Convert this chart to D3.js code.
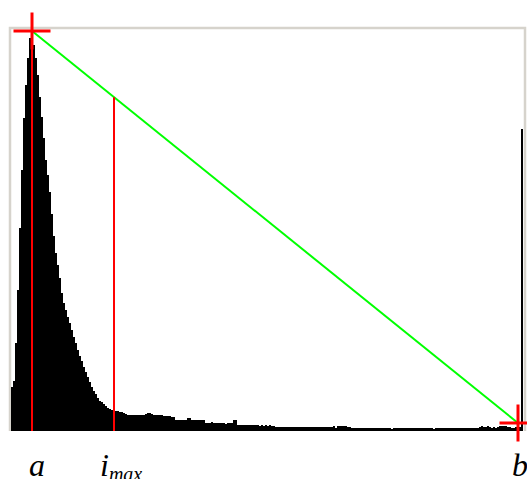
<!DOCTYPE html>
<html>
<head>
<meta charset="utf-8">
<script src="https://cdn.jsdelivr.net/npm/d3@7"></script>
<style>
html, body { margin: 0; padding: 0; background: #ffffff; }
svg { display: block; }
</style>
</head>
<body>
<svg id="chart" width="527" height="479"></svg>
<script>
// Histogram counts for 256 grey levels
const counts = [
  44, 50, 88, 141, 203, 261, 313, 346, 373, 393, 400,
  386, 373, 356, 334, 314, 293, 271, 256, 239, 217,
  195, 178, 166, 153, 138, 128, 121, 114, 108, 101,
  94, 88, 81, 75, 70, 64, 59, 54, 49, 44,
  40, 37, 33, 30, 29, 27, 25, 23, 22, 21,
  21, 20, 20, 19, 19, 18, 17,
  16, 16, 16, 16, 16, 16, 16, 16, 16,
  17, 18, 18, 17,
  16, 16, 16, 16, 16,
  15, 15, 15, 15,
  14, 14,
  11, 11, 11, 11, 11, 11, 13, 13, 11, 11, 11, 11, 11, 11, 11,
  8, 8, 8, 9, 8, 8, 8, 8, 8, 8, 7, 8, 8, 8,
  11, 11,
  6, 6, 6, 6, 6, 6, 6, 6, 6, 6, 6,
  5, 6, 5, 6, 5, 6, 5, 5,
  4, 4, 4, 4, 4, 4, 4, 4, 4, 4, 4, 4, 4, 4, 4,
  4, 4, 4, 4, 4, 4, 4, 4, 4, 4, 4, 4, 4, 4, 5,
  3,
  5, 5, 5, 5, 5, 4, 4,
  3, 3, 3, 3, 3, 3, 3, 3, 3, 3, 3, 3, 3, 3, 3, 3,
  3, 3, 3, 3, 2, 3, 3, 3, 3, 3, 3, 3, 3, 3, 3, 3,
  3, 3, 3, 3, 3, 3, 3, 3, 3, 2, 3, 3, 3, 3, 3, 3,
  3, 3, 3, 3, 3, 3, 3, 3, 3, 3, 3, 3, 3, 3, 3, 3,
  4, 5, 4, 4, 5, 4, 3, 4,
  3,
  4, 5, 5, 5, 5, 4, 4,
  3, 3, 4, 4,
  4,
  302
];

// Key positions (bin indices) and labels
const markerNames = ["a", "i", "b"];
const markerSubs = ["", "max", ""];
const markerBins = [10, 51, 253];
const bEndValue = 8;   // height of the end point b of the line

const svg = d3.select("#chart");

const x = d3.scaleLinear().domain([0, 256]).range([11, 523]);
const y = d3.scaleLinear().domain([0, 400]).range([431, 31]);
const cx = i => x(i) + (x(i + 1) - x(i)) / 2;

// frame (left, top, right)
svg.append("path")
  .attr("d", `M10,431 L10,28 L525,28 L525,431`)
  .attr("fill", "none")
  .attr("stroke", "#d6d3cc")
  .attr("stroke-width", 2.5);

// histogram bars
svg.append("g")
  .selectAll("rect")
  .data(counts)
  .join("rect")
  .attr("x", (d, i) => x(i))
  .attr("width", (d, i) => x(i + 1) - x(i))
  .attr("y", d => y(d))
  .attr("height", d => y(0) - y(d))
  .attr("fill", "#000000")
  .attr("shape-rendering", "crispEdges");

const aBin = markerBins[0], iBin = markerBins[1], bBin = markerBins[2];
const ax = cx(aBin), ay = y(counts[aBin]);
const bx = cx(bBin), by = y(bEndValue);

// green line from peak to end
svg.append("line")
  .attr("x1", ax).attr("y1", ay)
  .attr("x2", bx).attr("y2", by)
  .attr("stroke", "#00ff00")
  .attr("stroke-width", 2);

// red vertical at a
svg.append("line")
  .attr("x1", ax).attr("x2", ax)
  .attr("y1", ay).attr("y2", y(0))
  .attr("stroke", "#ff0000")
  .attr("stroke-width", 2);

// red vertical at imax (from the green line down to the base)
const ix = cx(iBin);
const iy = ay + (ix - ax) / (bx - ax) * (by - ay);
svg.append("line")
  .attr("x1", ix).attr("x2", ix)
  .attr("y1", iy).attr("y2", y(0))
  .attr("stroke", "#ff0000")
  .attr("stroke-width", 2);

// crosses at a and b
const arm = 18.5;
[[ax, ay], [bx, by]].forEach(([px, py]) => {
  svg.append("line")
    .attr("x1", px - arm).attr("x2", px + arm)
    .attr("y1", py).attr("y2", py)
    .attr("stroke", "#ff0000").attr("stroke-width", 3);
  svg.append("line")
    .attr("x1", px).attr("x2", px)
    .attr("y1", py - arm).attr("y2", py + arm)
    .attr("stroke", "#ff0000").attr("stroke-width", 3);
});

// labels
const labelOffsets = [-3, -14, -6];
markerNames.forEach((name, k) => {
  const t = svg.append("text")
    .attr("x", cx(markerBins[k]) + labelOffsets[k])
    .attr("y", 476)
    .attr("font-family", "'Liberation Serif', 'Times New Roman', serif")
    .attr("font-style", "italic")
    .attr("font-size", 32)
    .attr("fill", "#000000")
    .text(name);
  if (markerSubs[k]) {
    t.append("tspan")
      .attr("font-size", 20)
      .attr("dy", 5)
      .text(markerSubs[k]);
  }
});
</script>
</body>
</html>
